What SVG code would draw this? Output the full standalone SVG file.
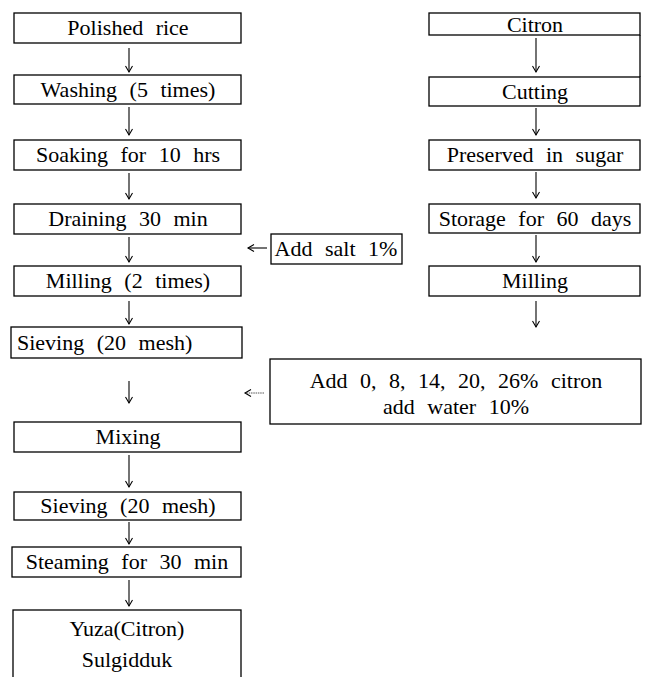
<svg xmlns="http://www.w3.org/2000/svg" width="646" height="677" viewBox="0 0 646 677" font-family="Liberation Serif, serif" font-size="22">
<defs>
<marker id="ah" markerWidth="10" markerHeight="10" refX="8" refY="5" orient="auto" markerUnits="userSpaceOnUse">
<path d="M2,1.5 L8,5 L2,8.5" fill="none" stroke="#000" stroke-width="1.1"/>
</marker>
</defs>
<style>
rect{fill:#fff;stroke:#000;stroke-width:1.3}
text{fill:#000;word-spacing:7px;text-anchor:middle}
.l{text-anchor:start}
.c line{stroke:#000;stroke-width:1.1;marker-end:url(#ah)}
.c line.d{stroke:#444;stroke-width:0.9;stroke-dasharray:1.5 0.8}
</style>
<rect width="646" height="677" style="fill:#fff;stroke:none"/>
<g id="n1"><rect x="14" y="13" width="227" height="30"/><text x="128" y="35" font-family="Liberation Serif">Polished rice</text></g>
<g id="n2"><rect x="14" y="75" width="227" height="29"/><text x="128" y="97" font-family="Liberation Serif">Washing (5 times)</text></g>
<g id="n3"><rect x="14" y="140" width="227" height="30"/><text x="128" y="162" font-family="Liberation Serif">Soaking for 10 hrs</text></g>
<g id="n4"><rect x="14" y="204" width="227" height="30"/><text x="128" y="226" font-family="Liberation Serif">Draining 30 min</text></g>
<g id="n5"><rect x="14" y="266" width="227" height="30"/><text x="128" y="288" font-family="Liberation Serif">Milling (2 times)</text></g>
<g id="n6"><rect x="11" y="327" width="231" height="31"/><text class="l" x="17" y="350" font-family="Liberation Serif">Sieving (20 mesh)</text></g>
<g id="n7"><rect x="14" y="422" width="227" height="30"/><text x="128" y="444" font-family="Liberation Serif">Mixing</text></g>
<g id="n8"><rect x="14" y="492" width="227" height="28"/><text x="128" y="513" font-family="Liberation Serif">Sieving (20 mesh)</text></g>
<g id="n9"><rect x="12" y="547" width="229" height="30"/><text x="127" y="569" font-family="Liberation Serif">Steaming for 30 min</text></g>
<g id="n10"><rect x="13" y="610" width="228" height="80"/><text x="127" y="636" font-family="Liberation Serif">Yuza(Citron)</text><text x="127" y="667" font-family="Liberation Serif">Sulgidduk</text></g>
<g id="r1"><rect x="429" y="13" width="211" height="22"/><line x1="640" y1="35" x2="640" y2="77" stroke="#000" stroke-width="1.3"/><text x="535" y="32" font-family="Liberation Serif">Citron</text></g>
<g id="r2"><rect x="429" y="77" width="211" height="29"/><text x="535" y="99" font-family="Liberation Serif">Cutting</text></g>
<g id="r3"><rect x="429" y="140" width="211" height="30"/><text x="535" y="162" font-family="Liberation Serif">Preserved in sugar</text></g>
<g id="r4"><rect x="429" y="204" width="211" height="29"/><text x="535" y="226" font-family="Liberation Serif">Storage for 60 days</text></g>
<g id="r5"><rect x="429" y="266" width="211" height="30"/><text x="535" y="288" font-family="Liberation Serif">Milling</text></g>
<g id="salt"><rect x="271" y="234" width="131" height="30"/><text x="336" y="256" font-family="Liberation Serif">Add salt 1%</text></g>
<g id="citron"><rect x="270" y="359" width="371" height="65"/><text x="456" y="388" font-family="Liberation Serif">Add 0, 8, 14, 20, 26% citron</text><text x="456" y="414" font-family="Liberation Serif">add water 10%</text></g>
<g class="c" id="connectors">
<line x1="129" y1="48" x2="129" y2="72"/>
<line x1="129" y1="107" x2="129" y2="135"/>
<line x1="129" y1="173" x2="129" y2="199"/>
<line x1="129" y1="237" x2="129" y2="262"/>
<line x1="129" y1="301" x2="129" y2="324"/>
<line x1="129" y1="381" x2="129" y2="403"/>
<line x1="129" y1="455" x2="129" y2="487"/>
<line x1="129" y1="522" x2="129" y2="544"/>
<line x1="129" y1="580" x2="129" y2="606"/>
<line x1="536" y1="38" x2="536" y2="72"/>
<line x1="536" y1="108" x2="536" y2="135"/>
<line x1="536" y1="172" x2="536" y2="198"/>
<line x1="536" y1="235" x2="536" y2="262"/>
<line x1="536" y1="301" x2="536" y2="327"/>
<line x1="267" y1="248" x2="248" y2="248"/>
<line class="d" x1="264" y1="393" x2="245" y2="393"/>
</g>
</svg>
